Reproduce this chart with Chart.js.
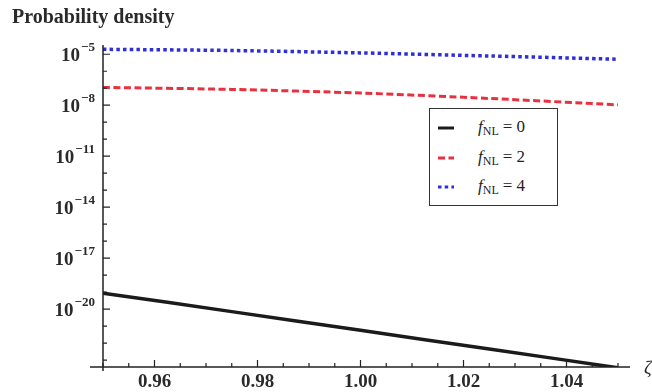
<!DOCTYPE html>
<html>
<head>
<meta charset="utf-8">
<script src="https://cdn.jsdelivr.net/npm/chart.js@4.4.4/dist/chart.umd.min.js"></script>
<style>
  html, body { margin: 0; padding: 0; background: #fff; }
  #wrap { position: relative; width: 652px; height: 392px; }
  #legend {
    position: absolute; left: 429px; top: 108px; width: 129px; height: 98px;
    border: 1.5px solid #333; background: #fff; box-sizing: border-box;
    font-family: 'Liberation Serif', 'DejaVu Serif', serif; font-size: 17px; color: #222;
  }
  .row { position: absolute; left: 0; height: 22px; display: flex; align-items: center; }
  .row svg { margin-left: 8px; margin-right: 24px; }
  .row i { font-style: italic; }
  .row sub { font-size: 12px; vertical-align: -3px; margin-right: 4px; }
</style>
</head>
<body>
<div id="wrap">
  <canvas id="chart" width="652" height="392"></canvas>
  <div id="legend"></div>
</div>
<script>
// ─── Data ────────────────────────────────────────────────────────────────────

const ZETA = [0.95, 0.975, 1.00, 1.025, 1.05];
const F_NL = [0, 2, 4];
const P_F0 = [8.7e-20, 7.1e-21, 5.6e-22, 4.5e-23, 3.5e-24];
const P_F2 = [1.12e-7, 8.5e-8, 5.2e-8, 2.5e-8, 1.05e-8];
const P_F4 = [1.95e-5, 1.66e-5, 1.2e-5, 7.9e-6, 5.1e-6];

const X_TICKS = [0.96, 0.98, 1.00, 1.02, 1.04];
const X_MINOR_STEP = 0.005;
const Y_LABEL_EXPS = [-5, -8, -11, -14, -17, -20];
const Y_MINOR_EXPS = [-5, -6, -7, -8, -9, -10, -11, -12, -13, -14, -15, -16, -17, -18, -19, -20, -21, -22, -23];

const SERIES = [
    { values: P_F0, color: '#1b1b1b', dash: [], width: 3.5 },
    { values: P_F2, color: '#e8313f', dash: [7, 3.5], width: 3 },
    { values: P_F4, color: '#2f2fd8', dash: [3.5, 3.2], width: 3.5 }
];

const FONT = "'Liberation Serif', 'DejaVu Serif', serif";

// ─── Axes, inward ticks, y labels with exponents, title ──────────────────────

const axesPlugin = {
    id: 'mmaAxes',
    afterDraw(chart) {
        const { ctx, chartArea: { left, right, top, bottom } } = chart;
        const xs = chart.scales.x, ys = chart.scales.y;
        ctx.save();
        ctx.strokeStyle = '#222';
        ctx.lineWidth = 1.5;
        ctx.beginPath();
        ctx.moveTo(left - 13, bottom); ctx.lineTo(right + 12, bottom);
        ctx.moveTo(left, top); ctx.lineTo(left, bottom + 4);
        ctx.stroke();

        ctx.lineWidth = 1.2;
        ctx.beginPath();
        for (let v = 0.95; v <= 1.0501; v += X_MINOR_STEP) {
            const px = xs.getPixelForValue(v);
            const major = X_TICKS.some(t => Math.abs(t - v) < 1e-6);
            ctx.moveTo(px, bottom); ctx.lineTo(px, bottom - (major ? 7 : 4));
        }
        Y_MINOR_EXPS.forEach(e => {
            const py = ys.getPixelForValue(Math.pow(10, e));
            const major = Y_LABEL_EXPS.includes(e);
            ctx.moveTo(left, py); ctx.lineTo(left + (major ? 7 : 4), py);
        });
        ctx.stroke();

        ctx.fillStyle = '#2a2a2a';
        ctx.textBaseline = 'alphabetic';
        Y_LABEL_EXPS.forEach(e => {
            const py = ys.getPixelForValue(Math.pow(10, e));
            const exp = '\u2212' + Math.abs(e);
            ctx.font = 'bold 13px ' + FONT;
            const ew = ctx.measureText(exp).width;
            const xr = left - 8;
            ctx.textAlign = 'right';
            ctx.fillText(exp, xr, py - 3);
            ctx.font = 'bold 19px ' + FONT;
            ctx.fillText('10', xr - ew - 1, py + 7);
        });

        ctx.textAlign = 'left';
        ctx.textBaseline = 'middle';
        ctx.font = 'bold 20px ' + FONT;
        ctx.fillText('Probability density', 12, 18);
        ctx.font = 'italic 19px ' + FONT;
        ctx.fillText('\u03B6', right + 26, bottom + 2);
        ctx.restore();
    }
};

// ─── Chart ───────────────────────────────────────────────────────────────────

new Chart(document.getElementById('chart'), {
    type: 'line',
    data: {
        datasets: SERIES.map((s, i) => ({
            label: 'fNL = ' + F_NL[i],
            data: ZETA.map((x, j) => ({ x, y: s.values[j] })),
            borderColor: s.color,
            borderDash: s.dash,
            borderWidth: s.width,
            pointRadius: 0,
            tension: 0.3,
            fill: false
        }))
    },
    options: {
        responsive: false,
        animation: false,
        layout: { padding: { top: 45, right: 34, left: 0, bottom: 0 } },
        plugins: { legend: { display: false }, tooltip: { enabled: false } },
        scales: {
            x: {
                type: 'linear',
                min: 0.95,
                max: 1.05,
                afterBuildTicks: sc => { sc.ticks = X_TICKS.map(v => ({ value: v })); },
                afterFit: sc => { sc.height = 25; },
                grid: { display: false, drawTicks: false },
                border: { display: false },
                ticks: {
                    padding: 4,
                    color: '#2a2a2a',
                    font: { family: FONT, size: 19, weight: 'bold' },
                    autoSkip: false,
                    maxRotation: 0,
                    callback: v => Number(v).toFixed(2)
                }
            },
            y: {
                type: 'logarithmic',
                min: 3.9e-24,
                max: 3.5e-5,
                afterBuildTicks: sc => { sc.ticks = Y_LABEL_EXPS.map(e => ({ value: Math.pow(10, e) })); },
                afterFit: sc => { sc.width = 103; },
                grid: { display: false, drawTicks: false },
                border: { display: false },
                ticks: { display: false }
            }
        }
    },
    plugins: [axesPlugin]
});

// ─── HTML legend (for the subscript) ─────────────────────────────────────────

const legend = document.getElementById('legend');
const ROW_TOPS = [8, 38, 67];
SERIES.forEach((s, i) => {
    const row = document.createElement('div');
    row.className = 'row';
    row.style.top = ROW_TOPS[i] + 'px';
    const dash = s.dash.length ? s.dash.join(' ') : 'none';
    row.innerHTML =
        `<svg width="16" height="6"><line x1="0" y1="3" x2="16" y2="3" stroke="${s.color}" stroke-width="3"` +
        ` stroke-dasharray="${dash}"/></svg>` +
        `<span><i>f</i><sub>NL</sub>= ${F_NL[i]}</span>`;
    legend.appendChild(row);
});
</script>
</body>
</html>
